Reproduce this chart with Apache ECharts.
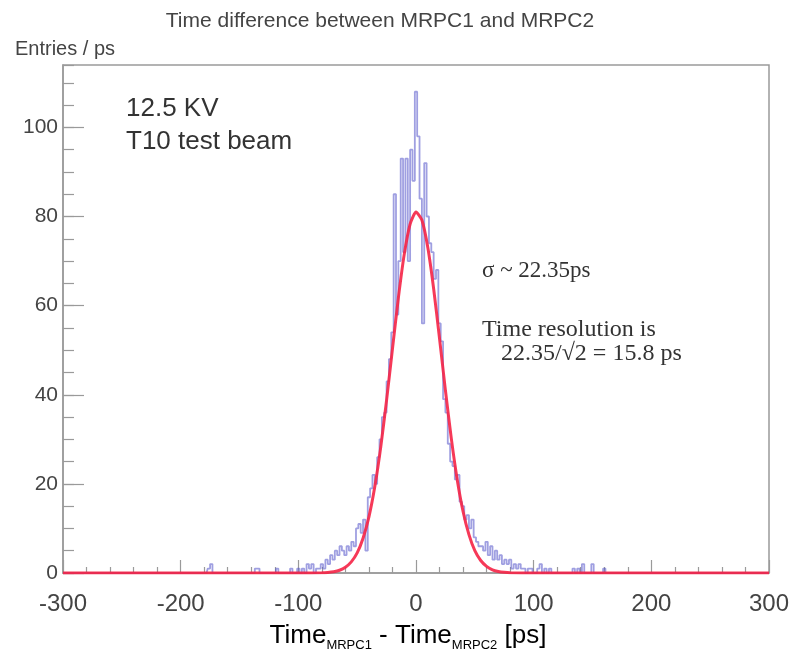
<!DOCTYPE html>
<html><head><meta charset="utf-8">
<script src="https://cdn.jsdelivr.net/npm/echarts@6/dist/echarts.min.js"></script>
<style>html,body{margin:0;padding:0;background:#fff}#c{width:798px;height:662px}</style>
</head><body><div id="c"></div>
<script>
// ---- data ----
const xTicks = [-300, -200, -100, 0, 100, 200, 300];
const yTicks = [0, 20, 40, 60, 80, 100];
// core histogram: 2 ps bins, centres -100 ... 100
const coreFirstCentre = -100;
const binWidth = 2;
const coreCounts = [
  1, 0, 1, 0, 2, 1, 2, 0, 1, 1,        // -100 .. -82
  2, 1, 3, 2, 4, 3, 5, 4, 6, 5,        // -80 .. -62
  4, 6, 5, 7, 6, 10, 11, 9, 12, 5,     // -60 .. -42
  17, 19, 22, 20, 26, 30, 35, 36, 43, 48, // -40 .. -22
  54, 85, 58, 70, 93, 72, 93, 70, 95, 88, // -20 .. -2
  108,                                  // 0
  98, 84, 56, 92, 80, 74, 72, 66, 68, 56, // 2 .. 20
  52, 39, 36, 29, 25, 24, 21, 22, 16, 15, // 22 .. 40
  12, 13, 10, 12, 8, 7, 6, 6, 5, 7,     // 42 .. 60
  4, 6, 3, 5, 3, 4, 2, 3, 2, 3,         // 62 .. 80
  1, 2, 1, 2, 1, 1, 0, 1, 1, 0          // 82 .. 100
];
// sparse entries in the far tails
const tailX = [-176, -174, -136, -134, -118, -106, 104, 106, 110, 114, 134, 138, 142, 150, 160];
const tailY = [1, 2, 1, 1, 1, 1, 1, 2, 1, 1, 1, 1, 2, 2, 1];
// gaussian fit curve
const fitX = [-300, -100, -80, -75, -70, -65, -60, -55, -50, -45, -40, -35, -30, -25, -20, -15, -10, -5, 0, 5, 10, 15, 20, 25, 30, 35, 40, 45, 50, 55, 60, 65, 70, 75, 80, 100, 300];
const fitY = [0, 0, 0.05, 0.13, 0.29, 0.62, 1.3, 2.5, 4.5, 7.8, 12.6, 19.4, 28.2, 38.8, 50.3, 61.7, 71.5, 78.3, 81, 79.2, 73.1, 63.8, 52.6, 41, 30.2, 21, 13.8, 8.6, 5, 2.8, 1.5, 0.72, 0.34, 0.15, 0.06, 0, 0];

// ---- build series ----
const counts = new Map();
coreCounts.forEach((v, i) => counts.set(coreFirstCentre + i * binWidth, v));
tailX.forEach((x, i) => counts.set(x, tailY[i]));
const hist = [];
for (let c = -300; c <= 300; c += binWidth) hist.push([c, counts.get(c) || 0]);
const fit = fitX.map((x, i) => [x, fitY[i]]);

const chart = echarts.init(document.getElementById('c'), null, {renderer: 'canvas'});
const sans = '"Liberation Sans", Arial, sans-serif';
const serif = '"Liberation Serif", "Times New Roman", serif';
const frame = '#9a9a9a';
chart.setOption({
  animation: false,
  backgroundColor: '#fff',
  grid: {left: 63, right: 29, top: 65, bottom: 89, show: true, borderColor: frame, borderWidth: 1.5, backgroundColor: 'transparent'},
  xAxis: {
    type: 'value', min: xTicks[0], max: xTicks[xTicks.length - 1], interval: 100,
    axisLine: {show: true, onZero: false, lineStyle: {color: frame, width: 1.5}},
    axisTick: {show: true, inside: true, length: 13, lineStyle: {color: frame, width: 1.2}},
    minorTick: {show: true, splitNumber: 5, length: 6, lineStyle: {color: frame, width: 1.2}},
    splitLine: {show: false},
    axisLabel: {fontSize: 24, color: '#444', margin: 19, fontFamily: sans}
  },
  yAxis: [{
    type: 'value', min: 0, max: 114, interval: 20,
    axisLine: {show: true, onZero: false, lineStyle: {color: frame, width: 1.5}},
    axisTick: {show: true, inside: true, length: 21, lineStyle: {color: frame, width: 1.2}},
    splitLine: {show: false},
    axisLabel: {fontSize: 21, color: '#444', margin: 5, fontFamily: sans, showMaxLabel: false,
      formatter: v => (yTicks.indexOf(v) >= 0 ? String(v) : '')}
  }, {
    type: 'value', min: 0, max: 114, interval: 5, position: 'left', offset: 0,
    axisLine: {show: false, onZero: false},
    axisTick: {show: true, inside: true, length: 11, lineStyle: {color: frame, width: 1.2}},
    axisLabel: {show: false}, splitLine: {show: false}
  }],
  series: [{
    type: 'line', data: hist, step: 'middle', symbol: 'none',
    lineStyle: {color: 'rgba(80,80,200,0.55)', width: 1.8}, z: 2
  }, {
    type: 'line', data: fit, symbol: 'none', smooth: 0.2,
    lineStyle: {color: 'rgba(245,35,70,0.9)', width: 3}, z: 3
  }],
  graphic: [
    {type: 'text', x: 380, y: 21, style: {text: 'Time difference between MRPC1 and MRPC2', font: '21px ' + sans, fill: '#444', textAlign: 'center', textVerticalAlign: 'middle'}},
    {type: 'text', x: 15, y: 49, style: {text: 'Entries / ps', font: '20px ' + sans, fill: '#444', textAlign: 'left', textVerticalAlign: 'middle'}},
    {type: 'text', x: 126, y: 109, style: {text: '12.5 KV', font: '26px ' + sans, fill: '#333', textAlign: 'left', textVerticalAlign: 'middle'}},
    {type: 'text', x: 126, y: 142, style: {text: 'T10 test beam', font: '26px ' + sans, fill: '#333', textAlign: 'left', textVerticalAlign: 'middle'}},
    {type: 'text', x: 482, y: 271, style: {text: 'σ ~ 22.35ps', font: '23px ' + serif, fill: '#333', textAlign: 'left', textVerticalAlign: 'middle'}},
    {type: 'text', x: 482, y: 330, style: {text: 'Time resolution is', font: '24px ' + serif, fill: '#333', textAlign: 'left', textVerticalAlign: 'middle'}},
    {type: 'text', x: 501, y: 354, style: {text: '22.35/√2 = 15.8 ps', font: '24px ' + serif, fill: '#333', textAlign: 'left', textVerticalAlign: 'middle'}},
    {type: 'text', x: 408, y: 636, style: {
      text: '{m|Time}{s|MRPC1}{m| - Time}{s|MRPC2}{m| [ps]}',
      textAlign: 'center', textVerticalAlign: 'middle',
      rich: {
        m: {fontSize: 26, fontFamily: sans, color: '#444', lineHeight: 32, verticalAlign: 'middle'},
        s: {fontSize: 13, fontFamily: sans, color: '#444', verticalAlign: 'bottom'}
      }
    }}
  ]
});
</script>
</body></html>
